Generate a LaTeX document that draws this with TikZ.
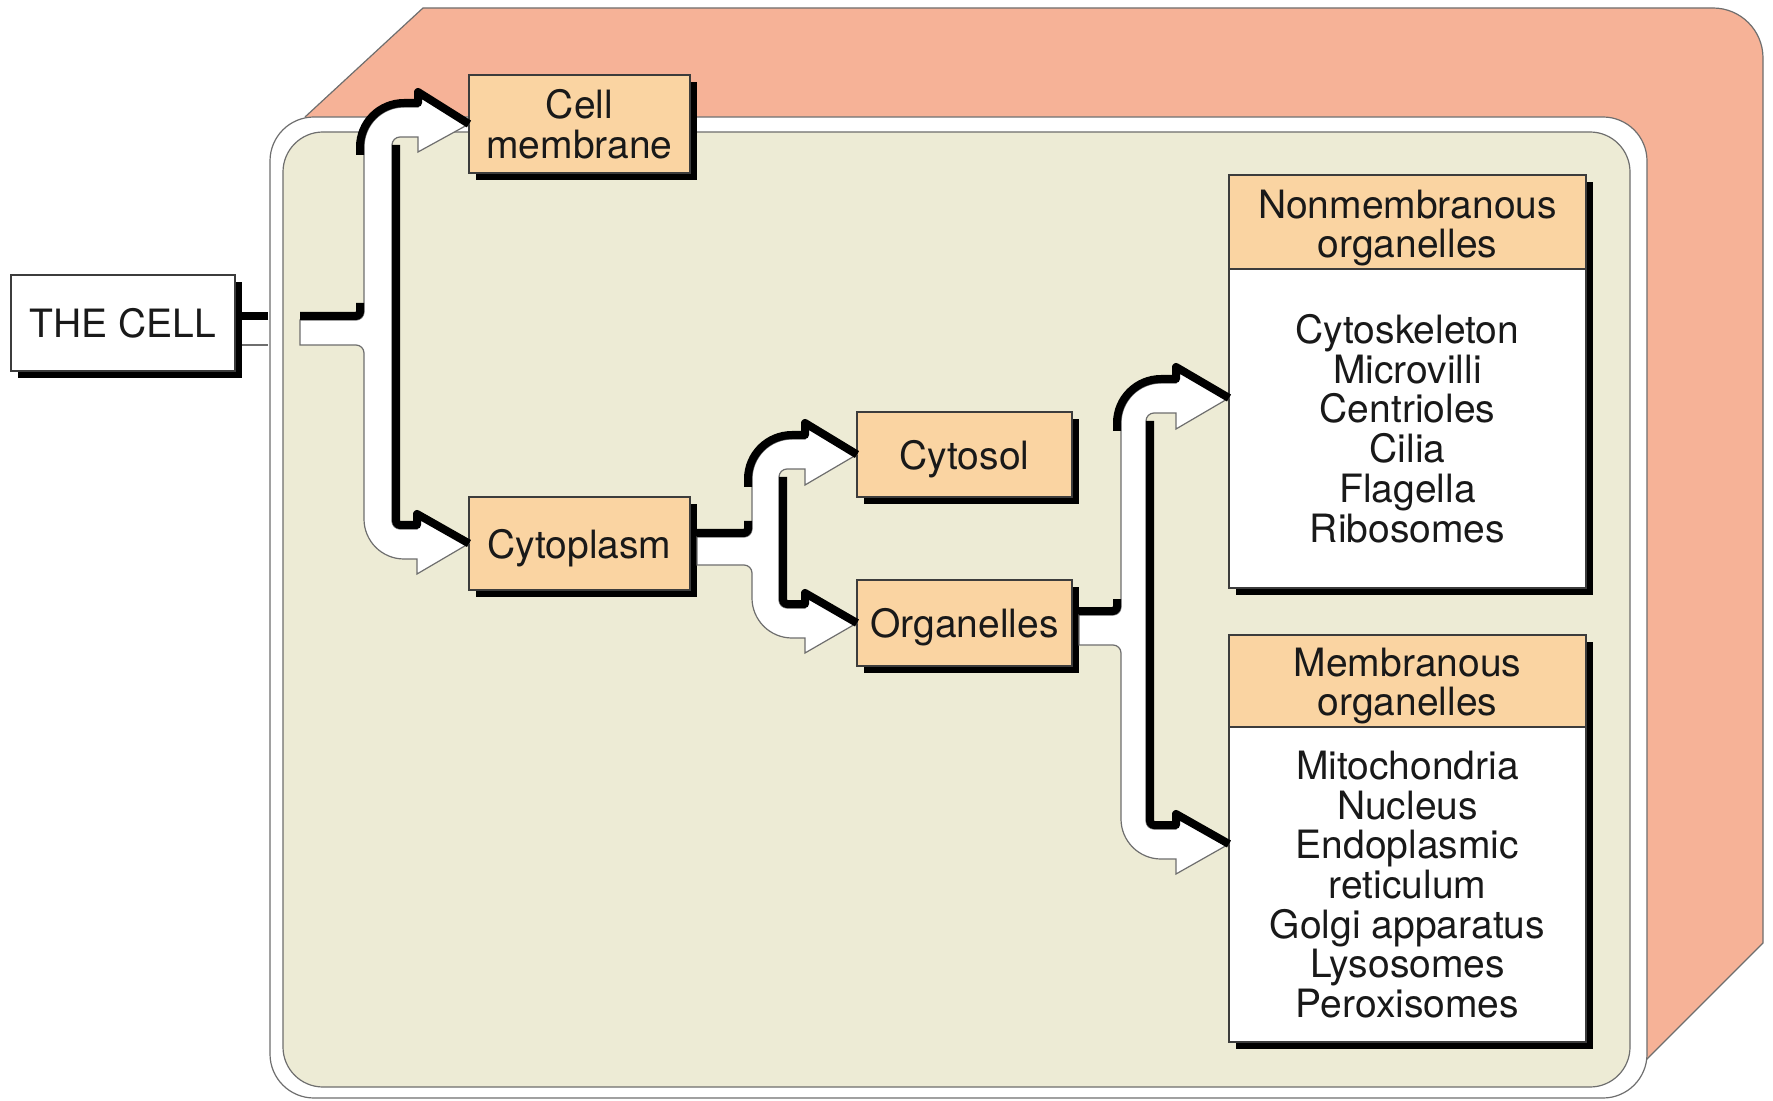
\documentclass[tikz,border=0pt]{standalone}
\usepackage{fontspec}
\setmainfont{TeX Gyre Heros}
\usetikzlibrary{shadows}
\definecolor{pinkslab}{RGB}{246,178,151}
\definecolor{boxorange}{RGB}{250,212,162}
\definecolor{cream}{RGB}{237,235,213}
\definecolor{edge}{RGB}{110,110,110}
\definecolor{ink}{RGB}{25,25,25}
\begin{document}
\begin{tikzpicture}[x=0.5pt,y=-0.5pt,
  lbl/.style={font=\fontsize{19.5}{19.85}\selectfont, text=ink, align=center},
  boxshadow/.style={general shadow={fill=black, shadow xshift=3.5pt, shadow yshift=-3.5pt}},
  obox/.style={lbl, draw=ink!85, line width=0.7pt, fill=boxorange, inner sep=0pt, outer sep=0pt, boxshadow},
  hbox/.style={draw=ink!85, line width=0.7pt, fill=boxorange, inner sep=0pt, outer sep=0pt},
  nodesc/.style={text depth=0pt},
  ribbon/.style={fill=white, draw=edge, line width=0.6pt},
  blackedge/.style={draw=black, line width=4pt, line join=round},
  thinedge/.style={draw=edge, line width=0.6pt},
]
\useasboundingbox (0,0) rectangle (1773,1101);

% back slab (cell membrane depth)
\fill[pinkslab] (305,117) -- (423,8) -- (1713,8) arc[start angle=270,end angle=360,radius=50]
  -- (1763,943) -- (1645,1061) -- (1500,700) -- cycle;
\draw[thinedge] (305,117) -- (423,8) -- (1713,8) arc[start angle=270,end angle=360,radius=50]
  -- (1763,943) -- (1645,1061);

% membrane and cytoplasm areas
\draw[fill=white, draw=edge, line width=0.6pt, rounded corners=22pt] (270,117) rectangle (1647,1098);
\draw[fill=cream, draw=edge, line width=0.6pt, rounded corners=20pt] (283,132) rectangle (1630,1087);

% boxes
\node[obox, fill=white, minimum width=112pt, minimum height=48pt] (cell) at (123,323) {THE CELL};
\node[obox, minimum width=110.5pt, minimum height=49pt] (cellmem) at (579.5,124) {Cell\\membrane};
\node[obox, nodesc, minimum width=110.5pt, minimum height=46.5pt] (cytoplasm) at (579.5,543.5) {Cytoplasm};
\node[obox, nodesc, minimum width=107.5pt, minimum height=42.5pt] (cytosol) at (964.5,454.5) {Cytosol};
\node[obox, nodesc, minimum width=107.5pt, minimum height=43pt] (organelles) at (964.5,623) {Organelles};

\node[obox, fill=white, minimum width=178.5pt, minimum height=206.5pt] (nonmem) at (1407.5,381.5) {};
\node[hbox, minimum width=178.5pt, minimum height=47pt, anchor=north] (nonmemH) at (nonmem.north) {};
\node[lbl] (nonmemT) at (1407.5,228) {Nonmembranous\\organelles};
\node[lbl] (nonmemB) at (1407.5,428.5) {Cytoskeleton\\Microvilli\\Centrioles\\Cilia\\Flagella\\Ribosomes};

\node[obox, fill=white, minimum width=178.5pt, minimum height=203.5pt] (mem) at (1407.5,838.5) {};
\node[hbox, minimum width=178.5pt, minimum height=46pt, anchor=north] (memH) at (mem.north) {};
\node[lbl] (memT) at (1407.5,686) {Membranous\\organelles};
\node[lbl] (memB) at (1407.5,884.5) {Mitochondria\\Nucleus\\Endoplasmic\\reticulum\\Golgi apparatus\\Lysosomes\\Peroxisomes};

% arrow tips on the target boxes
\coordinate (tipCM) at (cellmem.west);
\coordinate (tipCP) at (cytoplasm.west);
\coordinate (tipCS) at (cytosol.west);
\coordinate (tipOR) at (organelles.west);
\coordinate (tipNM) at ([yshift=-8.25pt]nonmem.west);
\coordinate (tipMM) at ([yshift=-2.75pt]mem.west);

% ---- fork 1: THE CELL -> Cell membrane / Cytoplasm
\draw[blackedge] (242,316) -- (268,316);
\draw[thinedge] (242,345) -- (268,345);
\draw[ribbon] (300,320) -- (356,320) arc[start angle=90,end angle=0,radius=8]
  -- (364,147) arc[start angle=180,end angle=270,radius=40]
  -- (418,107) -- (418,92) -- (tipCM) -- (418,152) -- (418,137)
  -- (400,137) arc[start angle=270,end angle=180,radius=8]
  -- (392,521) arc[start angle=180,end angle=90,radius=8]
  -- (417,529) -- (417,514) -- (tipCP) -- (417,574) -- (417,559)
  -- (404,559) arc[start angle=90,end angle=180,radius=40]
  -- (364,353) arc[start angle=0,end angle=-90,radius=8]
  -- (300,345) -- cycle;
\draw[blackedge] (300,316) -- (356,316) arc[start angle=90,end angle=0,radius=4] -- (360,303);
\draw[blackedge] (360,155) -- (360,147) arc[start angle=180,end angle=270,radius=44]
  -- (418,103) -- (418,92) -- (tipCM);
\draw[blackedge] (396,145) -- (396,521) arc[start angle=180,end angle=90,radius=4]
  -- (417,525) -- (417,514) -- (tipCP);

% ---- fork 2: Cytoplasm -> Cytosol / Organelles
\draw[ribbon] (697,537) -- (744,537) arc[start angle=90,end angle=0,radius=8]
  -- (752,479) arc[start angle=180,end angle=270,radius=40]
  -- (805,439) -- (805,423) -- (tipCS) -- (805,485) -- (805,469)
  -- (787,469) arc[start angle=270,end angle=180,radius=8]
  -- (779,600) arc[start angle=180,end angle=90,radius=8]
  -- (805,608) -- (805,593) -- (tipOR) -- (805,653) -- (805,638)
  -- (792,638) arc[start angle=90,end angle=180,radius=40]
  -- (752,573) arc[start angle=0,end angle=-90,radius=8]
  -- (697,565) -- cycle;
\draw[blackedge] (697,533) -- (744,533) arc[start angle=90,end angle=0,radius=4] -- (748,521);
\draw[blackedge] (748,487) -- (748,479) arc[start angle=180,end angle=270,radius=44]
  -- (805,435) -- (805,423) -- (tipCS);
\draw[blackedge] (783,477) -- (783,600) arc[start angle=180,end angle=90,radius=4]
  -- (805,604) -- (805,593) -- (tipOR);

% ---- fork 3: Organelles -> Nonmembranous / Membranous
\draw[ribbon] (1079,615) -- (1113,615) arc[start angle=90,end angle=0,radius=8]
  -- (1121,423) arc[start angle=180,end angle=270,radius=40]
  -- (1176,383) -- (1176,367) -- (tipNM) -- (1176,429) -- (1176,413)
  -- (1154,413) arc[start angle=270,end angle=180,radius=8]
  -- (1146,821) arc[start angle=180,end angle=90,radius=8]
  -- (1176,829) -- (1176,814) -- (tipMM) -- (1176,874) -- (1176,859)
  -- (1161,859) arc[start angle=90,end angle=180,radius=40]
  -- (1121,653) arc[start angle=0,end angle=-90,radius=8]
  -- (1079,645) -- cycle;
\draw[blackedge] (1079,611) -- (1113,611) arc[start angle=90,end angle=0,radius=4] -- (1117,599);
\draw[blackedge] (1117,431) -- (1117,423) arc[start angle=180,end angle=270,radius=44]
  -- (1176,379) -- (1176,367) -- (tipNM);
\draw[blackedge] (1150,421) -- (1150,821) arc[start angle=180,end angle=90,radius=4]
  -- (1176,825) -- (1176,814) -- (tipMM);

\end{tikzpicture}
\end{document}
